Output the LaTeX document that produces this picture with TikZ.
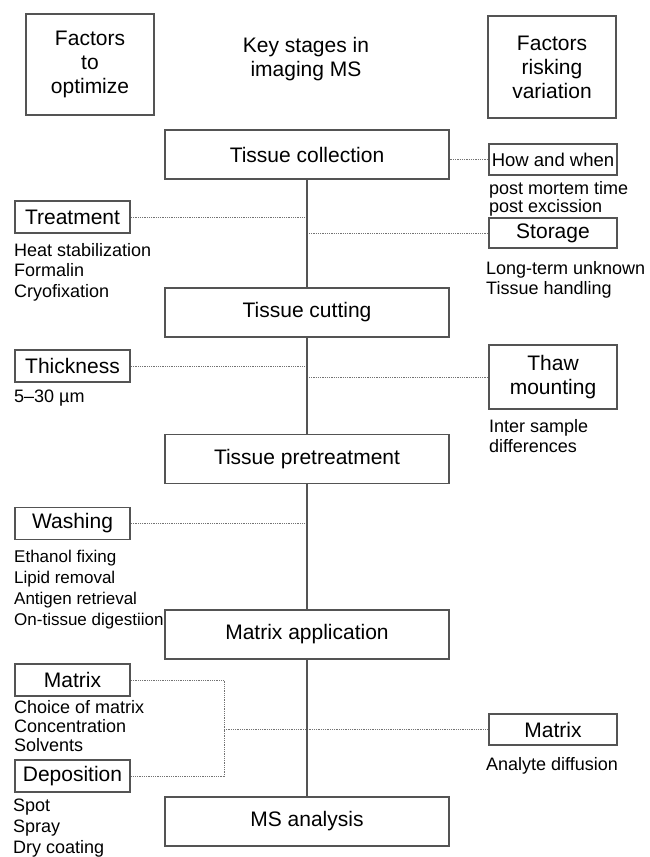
\documentclass[tikz,border=0pt]{standalone}
\usepackage{fontspec}
\setmainfont{Liberation Sans}
\definecolor{boxgray}{gray}{0.33}
\definecolor{dotgray}{gray}{0.45}
\begin{document}
\begin{tikzpicture}[x=1pt,y=-1pt,
    stagebox/.style={draw=boxgray,line width=1.9pt,minimum width=284pt,minimum height=49pt,inner sep=0pt,font=\fontsize{21}{24}\selectfont},
    headbox/.style={draw=boxgray,line width=1.9pt,minimum width=128pt,minimum height=101pt,align=center,inner sep=0pt,font=\fontsize{21}{24}\selectfont},
    leftbox/.style={draw=boxgray,line width=1.9pt,minimum width=115pt,minimum height=32pt,inner sep=0pt,font=\fontsize{21}{24}\selectfont},
    rightbox/.style={draw=boxgray,line width=1.9pt,minimum width=128pt,minimum height=31pt,align=center,inner sep=0pt,font=\fontsize{21}{24}\selectfont},
    notes/.style={anchor=north west,align=left,inner sep=0pt,font=\fontsize{18}{20.5}\selectfont},
    link/.style={draw=dotgray,densely dotted,line width=0.8pt},
    trunk/.style={draw=boxgray,line width=2pt}]
    \useasboundingbox (0,0) rectangle (650,857);
    % headings
    \node[headbox] (optim) at (90,64.5) {Factors\\to\\optimize};
    \node[align=center,font=\fontsize{21}{24}\selectfont] (keys) at (306,59) {Key stages in\\imaging MS};
    \node[headbox,minimum height=102pt] (risk) at (552,67) {Factors\\risking\\variation};
    % key stages
    \node[stagebox] (col) at (307,154.5) {Tissue collection};
    \node[stagebox] (cut) at (307,312.5) {Tissue cutting};
    \node[stagebox] (pre) at (307,459) {Tissue pretreatment};
    \node[stagebox] (app) at (307,634.5) {Matrix application};
    \node[stagebox] (ms) at (307,821.5) {MS analysis};
    % factors to optimize
    \node[leftbox] (treat) at (72.5,217) {Treatment};
    \node[notes] (treatlist) at (14,243) {Heat stabilization\\Formalin\\Cryofixation};
    \node[leftbox] (thick) at (72.5,366) {Thickness};
    \node[notes] (thicklist) at (14,390) {5–30 µm};
    \node[leftbox] (wash) at (72.5,523.5) {Washing};
    \node[notes,font=\fontsize{17}{21}\selectfont] (washlist) at (14,550) {Ethanol fixing\\Lipid removal\\Antigen retrieval\\On-tissue digestiion};
    \node[leftbox] (matl) at (72.5,680) {Matrix};
    \node[notes,font=\fontsize{18}{19}\selectfont] (matllist) at (14,700) {Choice of matrix\\Concentration\\Solvents};
    \node[leftbox] (dep) at (72.5,776) {Deposition};
    \node[notes,font=\fontsize{18}{21}\selectfont] (deplist) at (13,799) {Spot\\Spray\\Dry coating};
    % factors risking variation
    \node[rightbox,font=\fontsize{18.5}{21}\selectfont] (how) at (553,159.5) {How and when};
    \node[notes,font=\fontsize{18}{18.5}\selectfont] (howlist) at (489,181) {post mortem time\\post excission};
    \node[rightbox,minimum height=30pt] (stor) at (553,233) {Storage};
    \node[notes] (storlist) at (486,261) {Long-term unknown\\Tissue handling};
    \node[rightbox,minimum height=64pt] (thaw) at (553,377) {Thaw\\mounting};
    \node[notes] (thawlist) at (489,419) {Inter sample\\differences};
    \node[rightbox] (matr) at (553,729.5) {Matrix};
    \node[notes] (matrlist) at (486,757) {Analyte diffusion};
    % dotted links
    \draw[link] (how.west) -- (how.west -| col.east);
    \draw[link] (treat.east) -- (treat.east -| col.south);
    \draw[link] (stor.west) -- (stor.west -| col.south);
    \draw[link] (thick.east) -- (thick.east -| cut.south);
    \draw[link] (thaw.west) -- (thaw.west -| cut.south);
    \draw[link] (wash.east) -- (wash.east -| pre.south);
    \coordinate (mjoin) at (224,729.5);
    \draw[link] (matl.east) -| (mjoin) |- (dep.east);
    \draw[link] (mjoin) -- (matr.west);
    % trunk
    \draw[trunk] (col.south) -- (cut.north);
    \draw[trunk] (cut.south) -- (pre.north);
    \draw[trunk] (pre.south) -- (app.north);
    \draw[trunk] (app.south) -- (ms.north);
\end{tikzpicture}
\end{document}
